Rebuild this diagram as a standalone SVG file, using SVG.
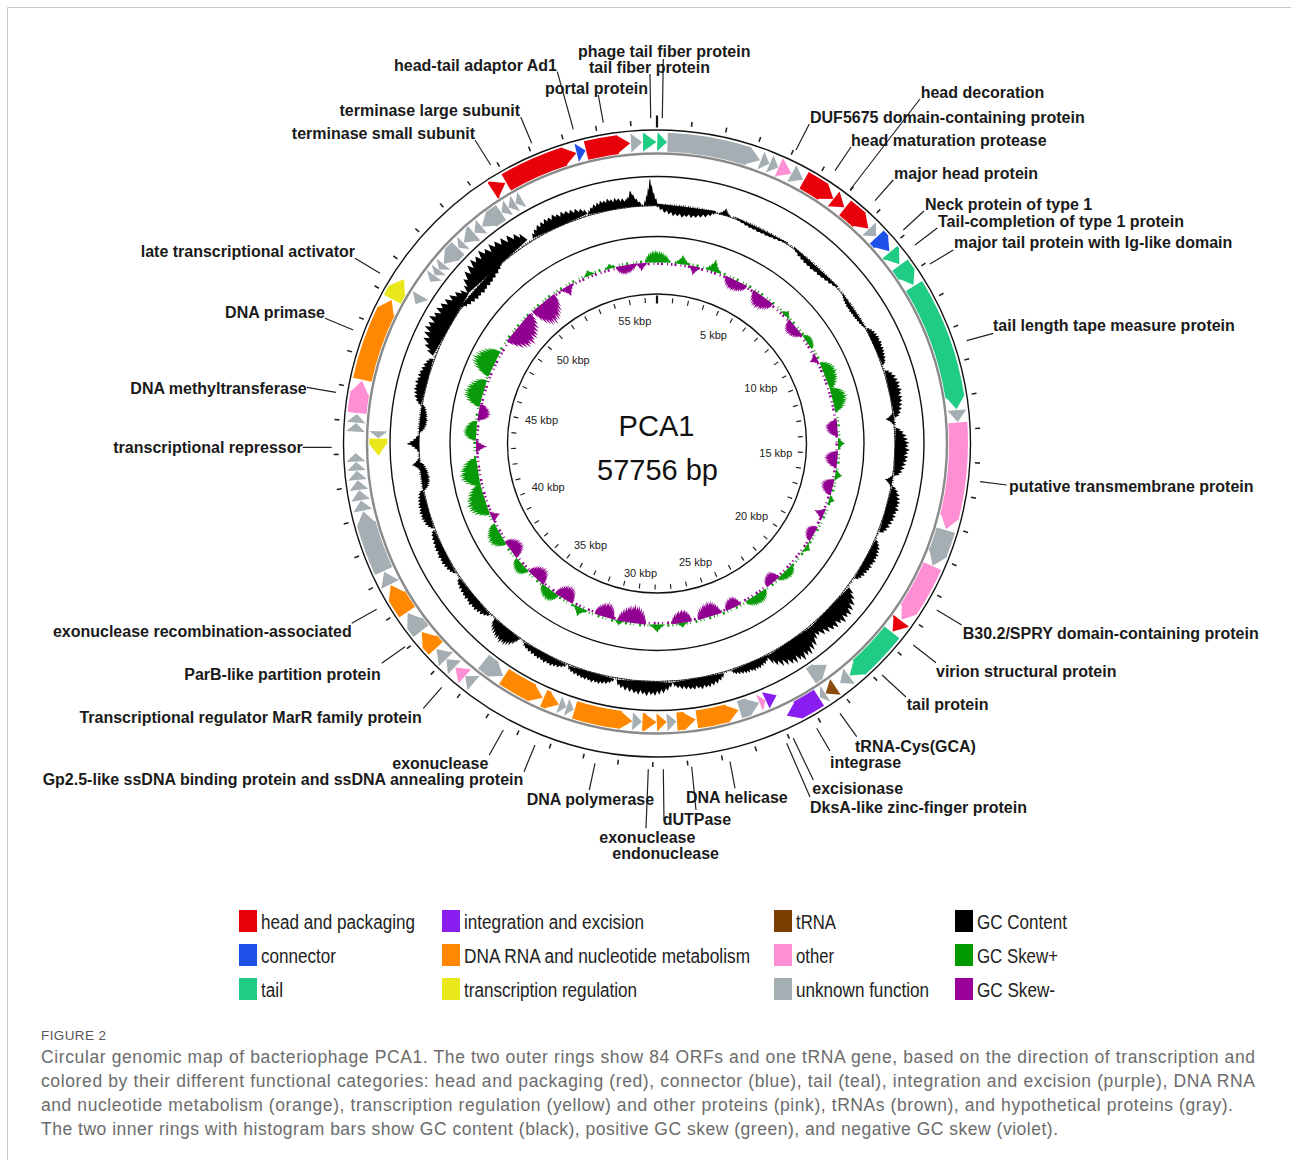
<svg xmlns="http://www.w3.org/2000/svg" width="1291" height="1160" viewBox="0 0 1291 1160">
<style>
text{font-family:"Liberation Sans",Arial,sans-serif}
.lb{font-size:16px;font-weight:bold;fill:#1a1a1a}
.e{text-anchor:end}
.k{font-size:11px;fill:#222}
.lg{font-family:"Liberation Sans",Arial,sans-serif;font-size:21px;fill:#222}
.cap{font-size:17.5px;fill:#6b6b6b}
.R{fill:#e8000a;stroke:#e8000a}
.B{fill:#1c50e6;stroke:#1c50e6}
.T{fill:#20cc84;stroke:#20cc84}
.P{fill:#8a1ef0;stroke:#8a1ef0}
.O{fill:#ff8800;stroke:#ff8800}
.Y{fill:#e8e81a;stroke:#e8e81a}
.W{fill:#8b4a0f;stroke:#8b4a0f}
.K{fill:#ff8fd3;stroke:#ff8fd3}
.G{fill:#a5aeb3;stroke:#a5aeb3}
</style>
<defs>
<circle id="co" r="301.5" pathLength="360" fill="none" stroke-width="19"/>
<circle id="ci" r="278.75" pathLength="360" fill="none" stroke-width="18"/>
<path id="ho" d="M-13.5-311L0-301.5-13.5-292z" stroke="none"/>
<path id="hi" d="M12.4-287.75L0-278.75 12.4-269.75z" stroke="none"/>
<path id="j" d="M-1 0L-.85-.2-.75-.12-.6-.42-.5-.3-.35-.66-.25-.55-.1-.95 0-1 .12-.7 .22-.78 .38-.42 .5-.5 .65-.22 .8-.28 1 0z"/>
<path id="m" d="M-1 0L-.95-.35-.9-.2-.85-.55-.78-.4-.7-.75-.62-.5-.55-.85-.47-.6-.4-.95-.33-.7-.25-.9-.18-.65-.1-1-.02-.72 .05-.88 .13-.6 .2-.92 .28-.66 .36-.84 .44-.55 .52-.78 .6-.45 .68-.7 .76-.38 .84-.55 .9-.25 .95-.4 1 0z"/>
</defs>
<rect width="1291" height="1160" fill="#fff"/>
<path d="M7.5 1160V7.5H1291" fill="none" stroke="#c8c8c8" stroke-width="1"/>

<g id="rings" transform="translate(657,443.5)" fill="none">
<circle r="313.5" stroke="#111" stroke-width="1.4"/>
<circle r="290" stroke="#8a8a8a" stroke-width="2.4"/>
<circle r="267" stroke="#111" stroke-width="1.4"/>
<circle r="207" stroke="#111" stroke-width="1.4"/>
<circle r="149.5" stroke="#111" stroke-width="1.4"/>
<circle r="321" stroke="#222" stroke-width="5" pathLength="57.756" stroke-dasharray=".045 .955" stroke-dashoffset=".022" transform="rotate(-90)"/>
<circle r="143.5" stroke="#222" stroke-width="5" pathLength="57.756" stroke-dasharray=".075 .925" stroke-dashoffset=".037" transform="rotate(-90)"/>
<path d="M0-316V-328M0-140V-148" stroke="#111" stroke-width="2.2"/>
</g>

<g id="gc-content" transform="translate(657,443.5)" fill="#000">
<circle r="238.5" fill="none" stroke="#000" stroke-width="2.4" stroke-dasharray=".8 1.3 .5 2"/>
<circle r="238" fill="none" stroke="#000" stroke-width=".7"/>
<use href="#m" transform="rotate(318)translate(0,-238)scale(40,25)"/>
<use href="#m" transform="rotate(300)translate(0,-238)scale(36,23)"/>
<use href="#m" transform="rotate(312)translate(0,-238)scale(30,-9)"/>
<use href="#m" transform="rotate(336)translate(0,-238)scale(30,14)"/>
<use href="#m" transform="rotate(349)translate(0,-238)scale(24,12)"/>
<use href="#j" transform="rotate(354)translate(0,-238)scale(10,16)"/>
<use href="#j" transform="rotate(358.5)translate(0,-238)scale(7,27)"/>
<use href="#m" transform="rotate(285)translate(0,-238)scale(24,12)"/>
<use href="#m" transform="rotate(7)translate(0,-238)scale(30,-11)"/>
<use href="#j" transform="rotate(16.5)translate(0,-238)scale(6,7)"/>
<use href="#m" transform="rotate(26)translate(0,-238)scale(30,-4)"/>
<use href="#m" transform="rotate(42)translate(0,-238)scale(30,-6)"/>
<use href="#m" transform="rotate(56)translate(0,-238)scale(20,-5)"/>
<use href="#m" transform="rotate(66)translate(0,-238)scale(20,9)"/>
<use href="#m" transform="rotate(78)translate(0,-238)scale(24,13)"/>
<use href="#m" transform="rotate(92)translate(0,-238)scale(24,15)"/>
<use href="#m" transform="rotate(106)translate(0,-238)scale(24,13)"/>
<use href="#m" transform="rotate(119)translate(0,-238)scale(22,11)"/>
<use href="#j" transform="rotate(84)translate(0,-238)scale(6,-8)"/>
<use href="#j" transform="rotate(99)translate(0,-238)scale(6,-7)"/>
<use href="#m" transform="rotate(134)translate(0,-238)scale(30,22)"/>
<use href="#m" transform="rotate(146)translate(0,-238)scale(28,25)"/>
<use href="#m" transform="rotate(157)translate(0,-238)scale(20,10)"/>
<use href="#m" transform="rotate(170)translate(0,-238)scale(26,12)"/>
<use href="#m" transform="rotate(183)translate(0,-238)scale(28,15)"/>
<use href="#m" transform="rotate(196)translate(0,-238)scale(24,10)"/>
<use href="#m" transform="rotate(208)translate(0,-238)scale(24,9)"/>
<use href="#m" transform="rotate(219)translate(0,-238)scale(16,17)"/>
<use href="#m" transform="rotate(230)translate(0,-238)scale(24,10)"/>
<use href="#m" transform="rotate(243)translate(0,-238)scale(24,9)"/>
<use href="#m" transform="rotate(254)translate(0,-238)scale(20,10)"/>
<use href="#m" transform="rotate(262)translate(0,-238)scale(14,-9)"/>
<use href="#j" transform="rotate(265)translate(0,-238)scale(6,8)"/>
<use href="#j" transform="rotate(270)translate(0,-238)scale(8,12)"/>
<use href="#m" transform="rotate(276)translate(0,-238)scale(14,-8)"/>
</g>

<g id="gc-skew" transform="translate(657,443.5)">
<circle r="182.3" fill="none" stroke="#089a08" stroke-width="2.6" stroke-dasharray="1 3 2 5 .7 2.5"/>
<circle r="179.7" fill="none" stroke="#920092" stroke-width="2.6" stroke-dasharray="2 4 1 3 1.5 2"/>
<g id="skew-plus" fill="#089a08">
<use href="#m" transform="rotate(0)translate(0,-181)scale(12,13)"/>
<use href="#j" transform="rotate(8)translate(0,-181)scale(8,9)"/>
<use href="#j" transform="rotate(18)translate(0,-181)scale(8,12)"/>
<use href="#j" transform="rotate(45)translate(0,-181)scale(6,6)"/>
<use href="#m" transform="rotate(56)translate(0,-181)scale(8,7)"/>
<use href="#m" transform="rotate(68)translate(0,-181)scale(14,14)"/>
<use href="#m" transform="rotate(76)translate(0,-181)scale(12,16)"/>
<use href="#j" transform="rotate(90)translate(0,-181)scale(6,7)"/>
<use href="#j" transform="rotate(100)translate(0,-181)scale(6,7)"/>
<use href="#j" transform="rotate(108)translate(0,-181)scale(5,6)"/>
<use href="#j" transform="rotate(125)translate(0,-181)scale(6,6)"/>
<use href="#m" transform="rotate(135)translate(0,-181)scale(10,9)"/>
<use href="#m" transform="rotate(147)translate(0,-181)scale(12,11)"/>
<use href="#j" transform="rotate(172)translate(0,-181)scale(6,5)"/>
<use href="#j" transform="rotate(180)translate(0,-181)scale(8,8)"/>
<use href="#j" transform="rotate(192)translate(0,-181)scale(5,5)"/>
<use href="#j" transform="rotate(205)translate(0,-181)scale(8,9)"/>
<use href="#m" transform="rotate(216)translate(0,-181)scale(10,12)"/>
<use href="#m" transform="rotate(228)translate(0,-181)scale(9,11)"/>
<use href="#m" transform="rotate(240)translate(0,-181)scale(12,15)"/>
<use href="#m" transform="rotate(252)translate(0,-181)scale(16,20)"/>
<use href="#m" transform="rotate(261)translate(0,-181)scale(14,20)"/>
<use href="#m" transform="rotate(274)translate(0,-181)scale(10,14)"/>
<use href="#m" transform="rotate(286)translate(0,-181)scale(14,20)"/>
<use href="#m" transform="rotate(296)translate(0,-181)scale(14,24)"/>
<use href="#j" transform="rotate(338)translate(0,-181)scale(6,6)"/>
<use href="#j" transform="rotate(345)translate(0,-181)scale(6,5)"/>
</g>
<g id="skew-minus" fill="#920092">
<use href="#j" transform="rotate(12)translate(0,-181)scale(6,-9)"/>
<use href="#m" transform="rotate(26)translate(0,-181)scale(12,-12)"/>
<use href="#m" transform="rotate(36)translate(0,-181)scale(12,-15)"/>
<use href="#m" transform="rotate(50)translate(0,-181)scale(10,-12)"/>
<use href="#j" transform="rotate(62)translate(0,-181)scale(6,-8)"/>
<use href="#m" transform="rotate(85)translate(0,-181)scale(8,-13)"/>
<use href="#m" transform="rotate(95)translate(0,-181)scale(8,-14)"/>
<use href="#m" transform="rotate(104)translate(0,-181)scale(8,-13)"/>
<use href="#j" transform="rotate(113)translate(0,-181)scale(6,-10)"/>
<use href="#m" transform="rotate(120)translate(0,-181)scale(8,-10)"/>
<use href="#m" transform="rotate(140)translate(0,-181)scale(8,-12)"/>
<use href="#m" transform="rotate(155)translate(0,-181)scale(8,-12)"/>
<use href="#m" transform="rotate(163)translate(0,-181)scale(12,-16)"/>
<use href="#m" transform="rotate(172)translate(0,-181)scale(10,-14)"/>
<use href="#m" transform="rotate(188)translate(0,-181)scale(14,-19)"/>
<use href="#m" transform="rotate(197)translate(0,-181)scale(10,-16)"/>
<use href="#m" transform="rotate(211)translate(0,-181)scale(10,-16)"/>
<use href="#m" transform="rotate(222)translate(0,-181)scale(10,-15)"/>
<use href="#m" transform="rotate(234)translate(0,-181)scale(10,-15)"/>
<use href="#j" transform="rotate(246)translate(0,-181)scale(6,-9)"/>
<use href="#j" transform="rotate(269)translate(0,-181)scale(6,-11)"/>
<use href="#m" transform="rotate(280)translate(0,-181)scale(8,-13)"/>
<use href="#m" transform="rotate(310)translate(0,-181)scale(18,-24)"/>
<use href="#m" transform="rotate(321)translate(0,-181)scale(14,-26)"/>
<use href="#j" transform="rotate(330)translate(0,-181)scale(8,-10)"/>
<use href="#m" transform="rotate(350)translate(0,-181)scale(10,-10)"/>
<use href="#j" transform="rotate(355)translate(0,-181)scale(6,-8)"/>
</g>
</g>

<g id="genes" transform="translate(657,443.5)">
<g id="o1" class="R"><use href="#co" stroke-dasharray=".45 400" transform="rotate(237)"/><use href="#ho" transform="rotate(329.8)"/></g>
<g id="o2" class="R"><use href="#co" stroke-dasharray="12.15 400" transform="rotate(240)"/><use href="#ho" transform="rotate(344.5)"/></g>
<g id="o3" class="B"><use href="#ho" transform="rotate(346.3)scale(.68,1)"/></g>
<g id="o4" class="R"><use href="#co" stroke-dasharray="6.15 400" transform="rotate(256.4)"/><use href="#ho" transform="rotate(354.9)"/></g>
<g id="o5" class="G"><use href="#ho" transform="rotate(357.2)scale(.84,1)"/></g>
<g id="o6" class="T"><use href="#ho" transform="rotate(359.9)"/></g>
<g id="o7" class="T"><use href="#ho" transform="rotate(1.9)scale(.72,1)"/></g>
<g id="o8" class="G"><use href="#co" stroke-dasharray="15.65 400" transform="rotate(-88)"/><use href="#ho" transform="rotate(20)"/></g>
<g id="o9" class="G"><use href="#ho" transform="rotate(21.9)scale(.68,1)"/></g>
<g id="o10" class="G"><use href="#ho" transform="rotate(23.7)scale(.68,1)"/></g>
<g id="o11" class="K"><use href="#co" stroke-dasharray=".35 400" transform="rotate(-66.2)"/><use href="#ho" transform="rotate(26.5)"/></g>
<g id="o12" class="G"><use href="#ho" transform="rotate(29)scale(.96,1)"/></g>
<g id="o13" class="R"><use href="#co" stroke-dasharray="4.25 400" transform="rotate(-60.8)"/><use href="#ho" transform="rotate(35.8)"/></g>
<g id="o14" class="R"><use href="#ho" transform="rotate(38.4)"/></g>
<g id="o15" class="R"><use href="#co" stroke-dasharray="3.55 400" transform="rotate(-51.4)"/><use href="#ho" transform="rotate(44.5)"/></g>
<g id="o16" class="G"><use href="#ho" transform="rotate(46.6)scale(.76,1)"/></g>
<g id="o17" class="B"><use href="#co" stroke-dasharray="1.25 400" transform="rotate(-43.2)"/><use href="#ho" transform="rotate(50.4)"/></g>
<g id="o18" class="T"><use href="#co" stroke-dasharray=".55 400" transform="rotate(-39.4)"/><use href="#ho" transform="rotate(53.5)"/></g>
<g id="o19" class="T"><use href="#co" stroke-dasharray="2.25 400" transform="rotate(-36.3)"/><use href="#ho" transform="rotate(58.3)"/></g>
<g id="o20" class="T"><use href="#co" stroke-dasharray="22.65 400" transform="rotate(-31.5)"/><use href="#ho" transform="rotate(83.5)"/></g>
<g id="o21" class="G"><use href="#ho" transform="rotate(85.9)scale(.88,1)"/></g>
<g id="o22" class="K"><use href="#co" stroke-dasharray="18.15 400" transform="rotate(-4)"/><use href="#ho" transform="rotate(106.5)"/></g>
<g id="o23" class="G"><use href="#co" stroke-dasharray="4.85 400" transform="rotate(16.7)"/><use href="#ho" transform="rotate(113.9)"/></g>
<g id="o24" class="K"><use href="#co" stroke-dasharray="9.45 400" transform="rotate(24)"/><use href="#ho" transform="rotate(125.8)"/></g>
<g id="o25" class="R"><use href="#co" stroke-dasharray=".25 400" transform="rotate(36)"/><use href="#ho" transform="rotate(128.6)"/></g>
<g id="o26" class="T"><use href="#co" stroke-dasharray="9.15 400" transform="rotate(38.8)"/><use href="#ho" transform="rotate(140.3)"/></g>
<g id="o27" class="G"><use href="#ho" transform="rotate(142.6)scale(.84,1)"/></g>
<g id="o28" class="W"><use href="#ho" transform="rotate(146)scale(.88,1)"/></g>
<g id="o29" class="G"><use href="#ho" transform="rotate(147.3)scale(.48,1)"/></g>
<g id="o30" class="P"><use href="#co" stroke-dasharray="4.65 400" transform="rotate(57.5)"/><use href="#ho" transform="rotate(154.5)"/></g>
<g id="o31" class="G"><use href="#ho" transform="rotate(219.5)scale(.8,1)"/></g>
<g id="o32" class="K"><use href="#ho" transform="rotate(222)scale(.96,1)"/></g>
<g id="o33" class="G"><use href="#ho" transform="rotate(224.3)scale(.84,1)"/></g>
<g id="o34" class="G"><use href="#co" stroke-dasharray=".25 400" transform="rotate(134.4)"/><use href="#ho" transform="rotate(227)"/></g>
<g id="o35" class="O"><use href="#co" stroke-dasharray="1.75 400" transform="rotate(137.2)"/><use href="#ho" transform="rotate(231.3)"/></g>
<g id="o36" class="G"><use href="#co" stroke-dasharray="1.95 400" transform="rotate(141.5)"/><use href="#ho" transform="rotate(235.8)"/></g>
<g id="o37" class="O"><use href="#co" stroke-dasharray="3.65 400" transform="rotate(146)"/><use href="#ho" transform="rotate(242)"/></g>
<g id="o38" class="G"><use href="#co" stroke-dasharray=".25 400" transform="rotate(152.2)"/><use href="#ho" transform="rotate(244.8)"/></g>
<g id="o39" class="G"><use href="#co" stroke-dasharray="9.65 400" transform="rotate(155)"/><use href="#ho" transform="rotate(257)"/></g>
<g id="o40" class="G"><use href="#ho" transform="rotate(259.1)scale(.76,1)"/></g>
<g id="o41" class="G"><use href="#ho" transform="rotate(261.1)scale(.76,1)"/></g>
<g id="o42" class="G"><use href="#ho" transform="rotate(263)scale(.72,1)"/></g>
<g id="o43" class="G"><use href="#ho" transform="rotate(264.8)scale(.68,1)"/></g>
<g id="o44" class="G"><use href="#ho" transform="rotate(266.5)scale(.64,1)"/></g>
<g id="o45" class="G"><use href="#ho" transform="rotate(268.2)scale(.64,1)"/></g>
<g id="o46" class="G"><use href="#ho" transform="rotate(273.9)scale(.64,1)"/></g>
<g id="o47" class="G"><use href="#ho" transform="rotate(275.6)scale(.64,1)"/></g>
<g id="o48" class="K"><use href="#co" stroke-dasharray="3.85 400" transform="rotate(185.8)"/><use href="#ho" transform="rotate(282)"/></g>
<g id="o49" class="O"><use href="#co" stroke-dasharray="13.85 400" transform="rotate(192.2)"/><use href="#ho" transform="rotate(298.4)"/></g>
<g id="o50" class="Y"><use href="#co" stroke-dasharray="2.05 400" transform="rotate(208.6)"/><use href="#ho" transform="rotate(303)"/></g>

<g id="i1" class="G"><use href="#ci" stroke-dasharray="1.65 400" transform="rotate(54.85)"/><use href="#hi" transform="rotate(142.5)"/></g>
<g id="i2" class="P"><use href="#hi" transform="rotate(154.6)scale(.96,1)"/></g>
<g id="i3" class="K"><use href="#hi" transform="rotate(157.1)scale(.52,1)"/></g>
<g id="i4" class="G"><use href="#ci" stroke-dasharray="1.95 400" transform="rotate(70.85)"/><use href="#hi" transform="rotate(158.5)"/></g>
<g id="i5" class="O"><use href="#ci" stroke-dasharray="6.45 400" transform="rotate(75.35)"/><use href="#hi" transform="rotate(163)"/></g>
<g id="i6" class="O"><use href="#ci" stroke-dasharray="1.55 400" transform="rotate(84.35)"/><use href="#hi" transform="rotate(172)"/></g>
<g id="i7" class="G"><use href="#hi" transform="rotate(176)scale(.76,1)"/></g>
<g id="i8" class="O"><use href="#hi" transform="rotate(178)scale(.8,1)"/></g>
<g id="i9" class="O"><use href="#ci" stroke-dasharray=".55 400" transform="rotate(92.45)"/><use href="#hi" transform="rotate(180.1)"/></g>
<g id="i10" class="G"><use href="#hi" transform="rotate(183.1)scale(.76,1)"/></g>
<g id="i11" class="O"><use href="#ci" stroke-dasharray="9.75 400" transform="rotate(97.45)"/><use href="#hi" transform="rotate(185.1)"/></g>
<g id="i12" class="G"><use href="#hi" transform="rotate(197.4)scale(.6,1)"/></g>
<g id="i13" class="G"><use href="#hi" transform="rotate(199)scale(.6,1)"/></g>
<g id="i14" class="O"><use href="#ci" stroke-dasharray="1.05 400" transform="rotate(112.95)"/><use href="#hi" transform="rotate(200.6)"/></g>
<g id="i15" class="O"><use href="#ci" stroke-dasharray="6.75 400" transform="rotate(116.55)"/><use href="#hi" transform="rotate(204.2)"/></g>
<g id="i16" class="G"><use href="#ci" stroke-dasharray="2.65 400" transform="rotate(125.85)"/><use href="#hi" transform="rotate(213.5)"/></g>
<g id="i17" class="Y"><use href="#ci" stroke-dasharray="1.15 400" transform="rotate(179.85)"/><use href="#hi" transform="rotate(267.5)"/></g>
<g id="i18" class="G"><use href="#hi" transform="rotate(271.1)scale(.56,1)"/></g>
<g id="i19" class="G"><use href="#hi" transform="rotate(300)scale(.8,1)"/></g>
<g id="i20" class="G"><use href="#hi" transform="rotate(305.5)scale(.6,1)"/></g>
<g id="i21" class="G"><use href="#hi" transform="rotate(307.1)scale(.56,1)"/></g>
<g id="i22" class="G"><use href="#hi" transform="rotate(308.6)scale(.56,1)"/></g>
<g id="i23" class="G"><use href="#ci" stroke-dasharray="2.05 400" transform="rotate(222.45)"/><use href="#hi" transform="rotate(310.1)"/></g>
<g id="i24" class="G"><use href="#hi" transform="rotate(314.6)scale(.56,1)"/></g>
<g id="i25" class="G"><use href="#ci" stroke-dasharray=".55 400" transform="rotate(228.45)"/><use href="#hi" transform="rotate(316.1)"/></g>
<g id="i26" class="G"><use href="#hi" transform="rotate(319.1)scale(.76,1)"/></g>
<g id="i27" class="G"><use href="#ci" stroke-dasharray="2.55 400" transform="rotate(233.45)"/><use href="#hi" transform="rotate(321.1)"/></g>
<g id="i28" class="G"><use href="#hi" transform="rotate(326.1)scale(.64,1)"/></g>
<g id="i29" class="G"><use href="#hi" transform="rotate(327.8)scale(.64,1)"/></g>
<g id="i30" class="G"><use href="#hi" transform="rotate(329.5)scale(.6,1)"/></g>
</g>

<g id="scale-labels" class="k">
<text x="618.3" y="325">55 kbp</text>
<text x="700" y="339">5 kbp</text>
<text x="556.7" y="364">50 kbp</text>
<text x="744.3" y="391.7">10 kbp</text>
<text x="525" y="424">45 kbp</text>
<text x="759.3" y="456.7">15 kbp</text>
<text x="531.7" y="490.7">40 kbp</text>
<text x="735" y="520">20 kbp</text>
<text x="574" y="549.3">35 kbp</text>
<text x="679" y="566">25 kbp</text>
<text x="624" y="576.7">30 kbp</text>
</g>
<g id="title" font-size="29" fill="#111" text-anchor="middle">
<text x="656.5" y="436">PCA1</text>
<text x="657.5" y="480">57756 bp</text>
</g>

<g id="connectors" stroke="#222" stroke-width="1.2" fill="none">
<path d="M557.3 71.7L573.3 129.3M598.3 95L603.3 122.7M650 74L650.7 118.3M663.3 59L662.3 118.3M520.7 117L531.7 143.3M475 140L490.7 165"/>
<path d="M920 99L850 190M809.3 124L796 150M851 147L835 170.7M893.3 180L875 200.7M924 211L903.3 230M937.3 228L915 245M953.3 250L930 264"/>
<path d="M993.3 333.3L966.7 340.7M1006.7 485L980 481.7M961.7 625L936.7 610M936 662.7L913.3 645M906 697L882 675"/>
<path d="M856.7 736.7L840 713.3M830 751L816.7 728.3M813.3 780L793.3 738.3M810 797L786.7 743.3M735 788.3L730 761.7M696 810L691.7 766.7M646 828.3L648.3 769.3M664 820L663.3 769.3M589.3 790L595 763.3M489.3 755L503.3 730M524 771.7L535 745"/>
<path d="M351.7 623.3L376.7 609.3M381.7 663.3L405 646.7M423.3 708.3L441.7 687.3M355 258.3L380 273.3M325 318.3L353.3 330M306.7 387.3L336 392.3M302.7 447.3L331.7 447.3"/>
</g>

<g id="labels" class="lb">
<text class="e" x="557" y="71">head-tail adaptor Ad1</text>
<text class="e" x="648" y="94">portal protein</text>
<text class="e" x="520" y="116">terminase large subunit</text>
<text class="e" x="475" y="139">terminase small subunit</text>
<text x="578" y="57">phage tail fiber protein</text>
<text x="589" y="72.5">tail fiber protein</text>
<text x="920.7" y="98.3">head decoration</text>
<text x="810" y="122.7">DUF5675 domain-containing protein</text>
<text x="851" y="146">head maturation protease</text>
<text x="894" y="178.7">major head protein</text>
<text x="925" y="210">Neck protein of type 1</text>
<text x="938" y="226.7">Tail-completion of type 1 protein</text>
<text x="954" y="248.3">major tail protein with Ig-like domain</text>
<text x="993" y="331">tail length tape measure protein</text>
<text x="1009" y="492">putative transmembrane protein</text>
<text x="962.7" y="639.3">B30.2/SPRY domain-containing protein</text>
<text x="936" y="676.7">virion structural protein</text>
<text x="906.7" y="710">tail protein</text>
<text x="855" y="751.7">tRNA-Cys(GCA)</text>
<text x="830" y="768">integrase</text>
<text x="812.3" y="794">excisionase</text>
<text x="810" y="812.5">DksA-like zinc-finger protein</text>
<text x="686" y="802.7">DNA helicase</text>
<text x="662.7" y="825">dUTPase</text>
<text x="599.3" y="843.3">exonuclease</text>
<text x="612.3" y="858.8">endonuclease</text>
<text x="526.7" y="805">DNA polymerase</text>
<text class="e" x="488.3" y="769.3">exonuclease</text>
<text class="e" x="523.3" y="785">Gp2.5-like ssDNA binding protein and ssDNA annealing protein</text>
<text class="e" x="351.7" y="637.3">exonuclease recombination-associated</text>
<text class="e" x="380.7" y="680">ParB-like partition protein</text>
<text class="e" x="421.7" y="722.7">Transcriptional regulator MarR family protein</text>
<text class="e" x="355" y="257.3">late transcriptional activator</text>
<text class="e" x="325" y="318.3">DNA primase</text>
<text class="e" x="306.7" y="394">DNA methyltransferase</text>
<text class="e" x="302.7" y="452.7">transcriptional repressor</text>
</g>

<g id="legend">
<rect x="239" y="910" width="18" height="22" fill="#e8000a"/>
<rect x="239" y="944" width="18" height="22" fill="#1c50e6"/>
<rect x="239" y="978" width="18" height="22" fill="#20cc84"/>
<rect x="442" y="910" width="18" height="22" fill="#8a1ef0"/>
<rect x="442" y="944" width="18" height="22" fill="#ff8800"/>
<rect x="442" y="978" width="18" height="22" fill="#e8e81a"/>
<rect x="774" y="910" width="18" height="22" fill="#7b3f00"/>
<rect x="774" y="944" width="18" height="22" fill="#ff8fd3"/>
<rect x="774" y="978" width="18" height="22" fill="#a5aeb3"/>
<rect x="955" y="910" width="18" height="22" fill="#000"/>
<rect x="955" y="944" width="18" height="22" fill="#009900"/>
<rect x="955" y="978" width="18" height="22" fill="#990099"/>
<g class="lg">
<text transform="translate(261,929)scale(.84,1)" textLength="183.3" lengthAdjust="spacingAndGlyphs">head and packaging</text>
<text transform="translate(261,963)scale(.84,1)" textLength="89.3" lengthAdjust="spacingAndGlyphs">connector</text>
<text transform="translate(261,997)scale(.84,1)" textLength="26.2" lengthAdjust="spacingAndGlyphs">tail</text>
<text transform="translate(464,929)scale(.84,1)" textLength="214.3" lengthAdjust="spacingAndGlyphs">integration and excision</text>
<text transform="translate(464,963)scale(.84,1)" textLength="340.5" lengthAdjust="spacingAndGlyphs">DNA RNA and nucleotide metabolism</text>
<text transform="translate(464,997)scale(.84,1)" textLength="206" lengthAdjust="spacingAndGlyphs">transcription regulation</text>
<text transform="translate(796,929)scale(.84,1)" textLength="47.6" lengthAdjust="spacingAndGlyphs">tRNA</text>
<text transform="translate(796,963)scale(.84,1)" textLength="45.2" lengthAdjust="spacingAndGlyphs">other</text>
<text transform="translate(796,997)scale(.84,1)" textLength="158.3" lengthAdjust="spacingAndGlyphs">unknown function</text>
<text transform="translate(977,929)scale(.84,1)" textLength="107.1" lengthAdjust="spacingAndGlyphs">GC Content</text>
<text transform="translate(977,963)scale(.84,1)" textLength="96.4" lengthAdjust="spacingAndGlyphs">GC Skew+</text>
<text transform="translate(977,997)scale(.84,1)" textLength="92.9" lengthAdjust="spacingAndGlyphs">GC Skew-</text>
</g>
</g>

<g id="caption">
<text x="41" y="1040" font-size="13.5" fill="#555" letter-spacing=".4">FIGURE 2</text>
<text class="cap" x="41" y="1063" textLength="1214" lengthAdjust="spacing">Circular genomic map of bacteriophage PCA1. The two outer rings show 84 ORFs and one tRNA gene, based on the direction of transcription and</text>
<text class="cap" x="41" y="1087" textLength="1214" lengthAdjust="spacing">colored by their different functional categories: head and packaging (red), connector (blue), tail (teal), integration and excision (purple), DNA RNA</text>
<text class="cap" x="41" y="1111" textLength="1192" lengthAdjust="spacing">and nucleotide metabolism (orange), transcription regulation (yellow) and other proteins (pink), tRNAs (brown), and hypothetical proteins (gray).</text>
<text class="cap" x="41" y="1135" textLength="1017" lengthAdjust="spacing">The two inner rings with histogram bars show GC content (black), positive GC skew (green), and negative GC skew (violet).</text>
</g>
</svg>
